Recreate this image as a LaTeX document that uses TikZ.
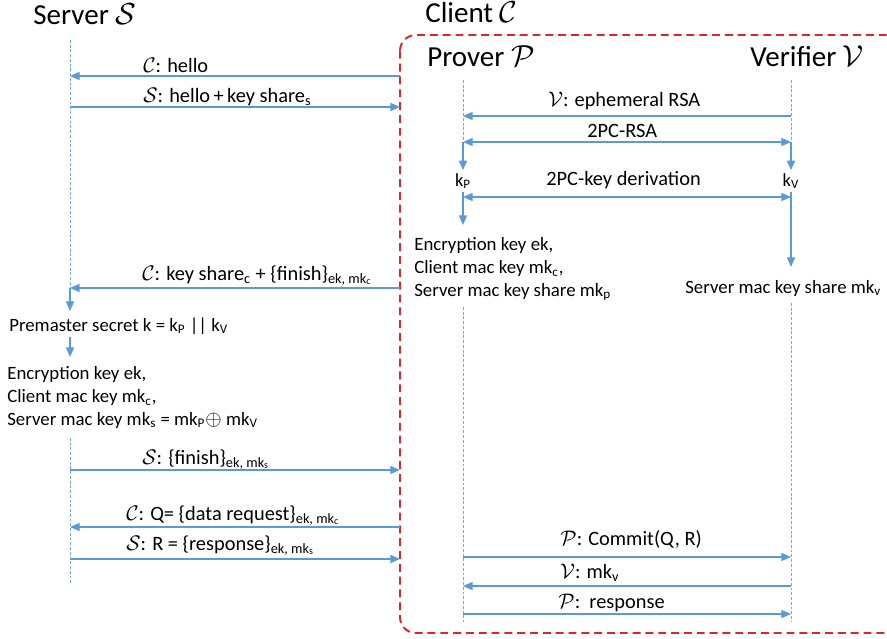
\documentclass[tikz,border=0pt]{standalone}
\usepackage{fontspec}
\setmainfont{Carlito}
\usetikzlibrary{arrows.meta,positioning}
\definecolor{msgblue}{RGB}{91,155,213}
\definecolor{boxred}{RGB}{225,35,45}
\newcommand{\srvS}{\ensuremath{\mathcal{S}}}
\newcommand{\cliC}{\ensuremath{\mathcal{C}}}
\newcommand{\prvP}{\ensuremath{\mathcal{P}}}
\newcommand{\verV}{\ensuremath{\mathcal{V}}}
\tikzset{
  lifeline/.style={msgblue!85, line width=0.5pt, dash pattern=on 1.6pt off 1.1pt},
  msg/.style     ={-{Triangle[length=5.5pt,width=4.6pt]}, msgblue, line width=0.75pt},
  msgboth/.style ={{Triangle[length=5.5pt,width=4.6pt]}-{Triangle[length=5.5pt,width=4.6pt]},
                   msgblue, line width=0.75pt},
  party/.style   ={font=\fontsize{16.5}{19}\selectfont, anchor=base west, inner sep=0pt},
  msglabel/.style={font=\fontsize{11.6}{13}\selectfont, anchor=base west, inner sep=0pt},
  keylabel/.style={font=\fontsize{10.5}{12}\selectfont, anchor=base, inner sep=1.5pt},
  keytext/.style ={font=\fontsize{10.7}{13}\selectfont, inner sep=0pt, align=left},
  clientbox/.style={boxred, line width=1.1pt, dash pattern=on 4.5pt off 2.8pt,
                    rounded corners=9pt},
}

\begin{document}
\begin{tikzpicture}[x=0.02cm, y=-0.02cm]
  \useasboundingbox (0,0) rectangle (887,639);

  % ---- client frame, runs off the right edge ------------------------------
  \draw[clientbox] (400,35) rectangle (910,633);

  % ---- parties -------------------------------------------------------------
  \node[party] (server)   at (33,25)  {Server \srvS};
  \node[party] (client)   at (425,23) {Client \cliC};
  \node[party] (prover)   at (427,67) {Prover \prvP};
  \node[party] (verifier) at (750,67) {Verifier \verV};

  % ---- messages ------------------------------------------------------------
  \foreach \n/\st/\xa/\xb/\y/\lx/\ly/\txt in {
      m1/msg/400/70/76/143/72/{\cliC: hello},
      m2/msg/70/400/107/143/102/{\srvS: hello\,+\,key share\textsubscript{s}},
      m3/msg/791/463/116/548/106/{\verV: ephemeral RSA},
      m4/msgboth/463/791/142/587/137/{2PC-RSA},
      m5/msgboth/463/791/197/546/185/{2PC-key derivation},
      m6/msg/400/70/288/142/280/{\cliC: key share\textsubscript{c} + \{finish\}\textsubscript{ek, mk\textsubscript{c}}},
      m7/msg/70/400/470/142/464/{\srvS: \{finish\}\textsubscript{ek, mk\textsubscript{s}}},
      m8/msg/400/70/527/126/520/{\cliC: Q= \{data request\}\textsubscript{ek, mk\textsubscript{c}}},
      m9/msg/70/400/559/126/550/{\srvS: R = \{response\}\textsubscript{ek, mk\textsubscript{s}}},
      m10/msg/463/791/557/560/545/{\prvP: Commit(Q, R)},
      m11/msg/791/463/586/560/578/{\verV: mk\textsubscript{v}},
      m12/msg/463/791/614/558/608/{\prvP:\ \ response}} {
    \coordinate (\n-a) at (\xa,\y);
    \coordinate (\n-b) at (\xb,\y);
    \draw[\st] (\n-a) -- (\n-b);
    \node[msglabel] (\n-l) at (\lx,\ly) {\txt};
  }

  % ---- lifelines -----------------------------------------------------------
  \coordinate (sTop) at (70,40);   \coordinate (sLow) at (70,438);
  \coordinate (sEnd) at (70,583);
  \coordinate (pTop) at (463,80);  \coordinate (pLow) at (463,307);
  \coordinate (pEnd) at (463,622);
  \coordinate (vTop) at (791,80);  \coordinate (vLow) at (791,303);
  \coordinate (vEnd) at (791,622);
  \draw[lifeline] (sTop) -- (m6-b) (sLow) -- (sEnd);
  \draw[lifeline] (pTop) -- (m4-a) (pLow) -- (pEnd);
  \draw[lifeline] (vTop) -- (m4-b) (vLow) -- (vEnd);

  % ---- prover and verifier keys --------------------------------------------
  \node[keylabel] (kP) at (463,186) {k\textsubscript{P}};
  \node[keylabel] (kV) at (791,186) {k\textsubscript{V}};
  \coordinate (pDone) at (463,225);
  \coordinate (vDone) at (791,267);
  \draw[msg] (m4-a) -- (kP.north);
  \draw[msg] (m4-b) -- (kV.north);
  \draw[msg] (kP.south) -- (pDone);
  \draw[msg] (kV.south) -- (vDone);
  \node[keytext, anchor=north west] (pKeys) at (414,237)
    {Encryption key ek,\\ Client mac key mk\textsubscript{c},\\
     Server mac key share mk\textsubscript{p}};
  \node[keytext, anchor=base west] (vKeys) at (685,293)
    {Server mac key share mk\textsubscript{v}};

  % ---- server keys ---------------------------------------------------------
  \coordinate (sPre) at (70,311);
  \coordinate (sDer) at (70,337);
  \coordinate (sDone) at (70,357);
  \draw[msg] (m6-b) -- (sPre);
  \node[keytext, anchor=base west] (premaster) at (9,331)
    {Premaster secret k = k\textsubscript{P} || k\textsubscript{V}};
  \draw[msg] (sDer) -- (sDone);
  \node[keytext, anchor=north west] (sKeys) at (7,366)
    {Encryption key ek,\\ Client mac key mk\textsubscript{c},\\
     Server mac key mk\textsubscript{s} = mk\textsubscript{P}{\large$\oplus$} mk\textsubscript{V}};
\end{tikzpicture}
\end{document}
